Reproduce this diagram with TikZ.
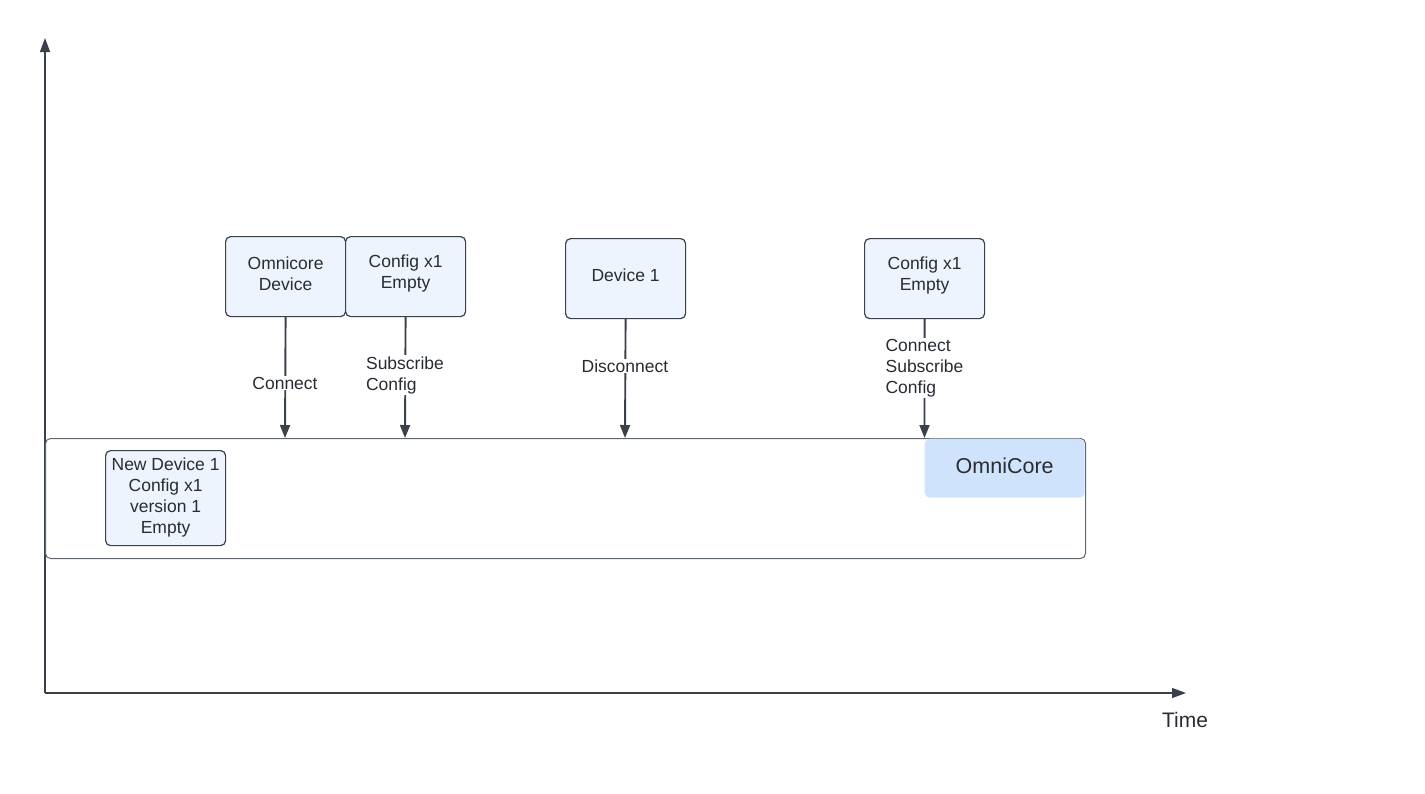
\documentclass[tikz,border=0pt]{standalone}
\usepackage{fontspec}
\setmainfont{Liberation Sans}
\usetikzlibrary{arrows.meta}
\definecolor{txt}{HTML}{282C33}
\definecolor{strk}{HTML}{3A414A}
\definecolor{boxfill}{HTML}{EDF4FE}
\definecolor{corefill}{HTML}{CFE3FD}
\begin{document}
\begin{tikzpicture}[x=1pt,y=-1pt,
  every node/.style={text=txt,font=\fontsize{17.5}{21}\selectfont},
  sbox/.style={draw=strk,line width=1.2pt,fill=boxfill,rounded corners=5pt,
    minimum width=120pt,minimum height=80pt,inner sep=0pt,anchor=north west},
  btxt/.style={align=center,inner sep=0pt},
  conn/.style={draw=strk,line width=1.9pt,-{Triangle[length=13pt,width=10pt]}},
  lbl/.style={fill=white,inner sep=1pt,align=left},
  axis/.style={draw=strk,line width=1.3pt,-{Triangle[length=14pt,width=10pt]}}
]
\useasboundingbox (0,0) rectangle (1425,793);
% axes
\coordinate (o) at (45,693);
\coordinate (ytop) at (45,38);
\coordinate (xend) at (1186,693);
\draw[axis] (o) -- (ytop);
\draw[axis] (o) -- (xend);
\node[font=\fontsize{21}{25}\selectfont] (time) at (1185,720) {Time};
% big container
\node[draw=strk!80,line width=1pt,rounded corners=5pt,minimum width=1040pt,minimum height=120pt,anchor=north west,inner sep=0pt] (main) at (45,438) {};
% OmniCore
\node[fill=corefill,rounded corners=5pt,minimum width=160pt,minimum height=59pt,anchor=north west,inner sep=0pt] (core) at (924.5,438.5) {};
\node[font=\fontsize{21.5}{25}\selectfont] (coretxt) at ([yshift=2pt]core.center) {OmniCore};
% new device
\node[sbox,minimum height=95pt] (nd) at (105,450) {};
\node[btxt] (ndtxt) at ([yshift=1pt]nd.center) {New Device 1\\Config x1\\version 1\\Empty};
% top boxes
\node[sbox] (od) at (225,236) {};
\node[btxt] (odtxt) at ([yshift=3pt]od.center) {Omnicore\\Device};
\node[sbox] (c1) at (345,236) {};
\node[btxt] (c1txt) at ([yshift=3pt]c1.center) {Config x1\\Empty};
\node[sbox] (d1) at (565,238) {};
\node[btxt] (d1txt) at ([yshift=3pt]d1.center) {Device 1};
\node[sbox] (c2) at (864,238) {};
\node[btxt] (c2txt) at ([yshift=3pt]c2.center) {Config x1\\Empty};
% arrow targets
\coordinate (t1) at (285,438);
\coordinate (t2) at (405,438);
\coordinate (t3) at (625,438);
\coordinate (t4) at (924.5,438);
\draw[conn] (od.south) -- (t1);
\draw[conn] (c1.south) -- (t2);
\draw[conn] (d1.south) -- (t3);
\draw[conn] (c2.south) -- (t4);
\node[lbl] (l1) at (285,383) {Connect};
\node[lbl] (l2) at (405,375) {Subscribe\\Config};
\node[lbl] (l3) at (625,366) {Disconnect};
\node[lbl] (l4) at (924.5,368) {Connect\\Subscribe\\Config};
\end{tikzpicture}
\end{document}
